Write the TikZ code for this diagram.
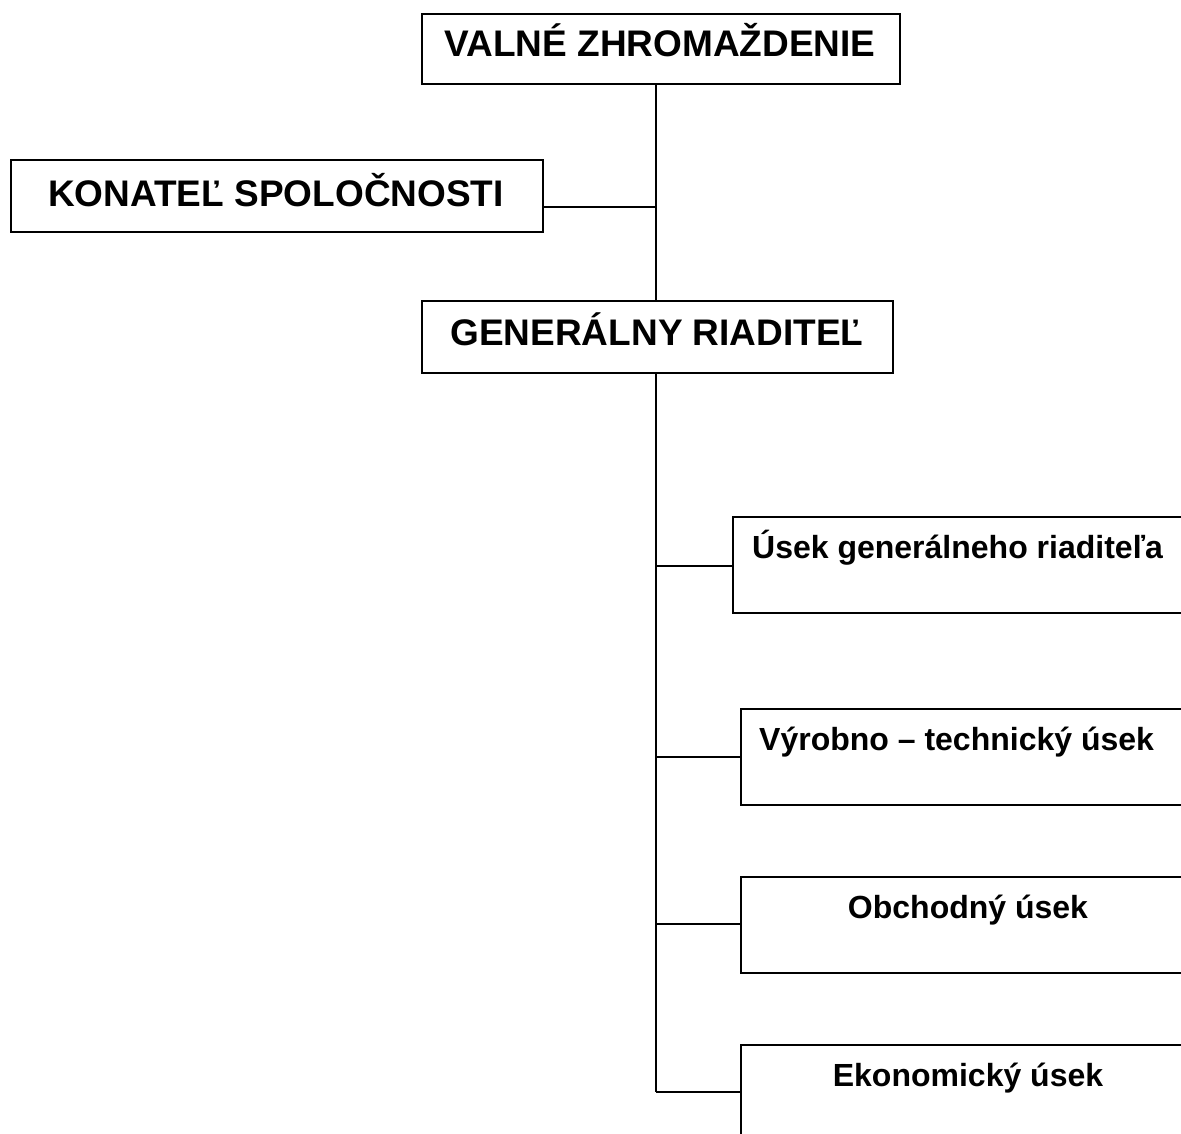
\documentclass[tikz,border=0pt]{standalone}
\usepackage{fontspec}
\setmainfont{Liberation Sans}
\begin{document}
\begin{tikzpicture}[x=1pt,y=-1pt,
  box/.style={draw,line width=2pt,inner sep=0pt,anchor=north west},
  big/.style={font=\fontsize{37}{40}\selectfont\bfseries,anchor=base,inner sep=0pt},
  smallc/.style={font=\fontsize{32}{36}\selectfont\bfseries,anchor=base,inner sep=0pt},
  smalll/.style={font=\fontsize{32}{36}\selectfont\bfseries,anchor=base west,inner sep=0pt},
  conn/.style={line width=1.7pt}]
\useasboundingbox (0,0) rectangle (1181,1133);
\clip (0,0) rectangle (1181,1133);
% boxes
\node[box,minimum width=478pt,minimum height=70.6pt] (vz) at (421,12.7) {};
\node[box,minimum width=531.7pt,minimum height=71.4pt] (kon) at (10,159.3) {};
\node[box,minimum width=471pt,minimum height=71.7pt] (gen) at (421,300) {};
\node[box,minimum width=480pt,minimum height=95.7pt] (u1) at (732,516) {};
\node[box,minimum width=480pt,minimum height=95.7pt] (u2) at (739.5,708.3) {};
\node[box,minimum width=480pt,minimum height=95.7pt] (u3) at (739.5,876) {};
\node[box,minimum width=480pt,minimum height=120pt] (u4) at (740,1044.3) {};
% texts
\node[big] (tvz) at (660,56.7) {VALNÉ ZHROMAŽDENIE};
\node[big] (tkon) at (276,206.7) {KONATEĽ SPOLOČNOSTI};
\node[big] (tgen) at (657,345) {GENERÁLNY RIADITEĽ};
\node[smalll] (tu1) at (752,558.3) {Úsek generálneho riaditeľa};
\node[smalll] (tu2) at (759,750) {Výrobno – technický úsek};
\node[smallc] (tu3) at (968,918.3) {Obchodný úsek};
\node[smallc] (tu4) at (968,1086.7) {Ekonomický úsek};
% connectors
\coordinate (spine) at (656,0);
\coordinate (kb) at (656,207.3);
\coordinate (b1) at (656,565.7);
\coordinate (b2) at (656,756.7);
\coordinate (b3) at (656,924.3);
\coordinate (b4) at (656,1092.3);
\draw[conn] (vz.south -| spine) -- (gen.north -| spine);
\draw[conn] (kb) -- (kb -| kon.east);
\draw[conn] (gen.south -| spine) -- (b4);
\draw[conn] (b1) -- (b1 -| u1.west);
\draw[conn] (b2) -- (b2 -| u2.west);
\draw[conn] (b3) -- (b3 -| u3.west);
\draw[conn] (b4) -- (b4 -| u4.west);
\end{tikzpicture}
\end{document}
